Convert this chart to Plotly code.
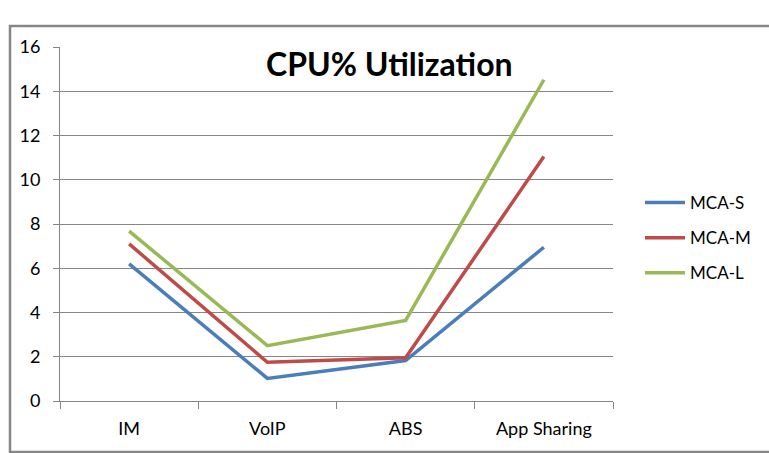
import plotly.graph_objects as go

categories = ["IM", "VoIP", "ABS", "App Sharing"]
mca_s = [6.2, 1.02, 1.83, 6.95]
mca_m = [7.1, 1.75, 1.95, 11.05]
mca_l = [7.68, 2.5, 3.64, 14.52]
series_names = ["MCA-S", "MCA-M", "MCA-L"]
colors = ["#4A7EBB", "#BE4B48", "#98B954"]
y_ticks = [0, 2, 4, 6, 8, 10, 12, 14, 16]

FONT = "Lato, Carlito, Calibri, sans-serif"

fig = go.Figure()
for name, vals, col in zip(series_names, [mca_s, mca_m, mca_l], colors):
    fig.add_trace(go.Scatter(x=categories, y=vals, mode="lines", name=name,
                             legendgroup=name,
                             line=dict(color=col, width=3.5)))

W, H = 769, 453
L, R, T, B = 60, 156, 47, 52
pw = W - L - R
ph = H - T - B

def px_x(px):
    return (px - L) / pw

def px_y(py):
    return (H - B - py) / ph

fig.update_layout(
    width=W, height=H,
    margin=dict(l=L, r=R, t=T, b=B),
    paper_bgcolor="white", plot_bgcolor="white",
    font=dict(family=FONT, size=17, color="#000000"),
    showlegend=True,
    legend=dict(x=px_x(640), y=px_y(185), xanchor="left", yanchor="top",
                font=dict(size=17), tracegroupgap=10,
                bgcolor="rgba(0,0,0,0)", itemwidth=40),
    xaxis=dict(type="category", range=[-0.5, 3.5], showline=True,
               linecolor="#868686", linewidth=1, showgrid=False,
               ticks="outside", tickson="boundaries", ticklen=7,
               tickcolor="#868686", ticklabelstandoff=11,
               tickfont=dict(size=18)),
    yaxis=dict(range=[0, 16], tickvals=y_ticks, showline=True,
               linecolor="#868686", linewidth=1, showgrid=True,
               gridcolor="#868686", gridwidth=1, zeroline=False,
               ticks="outside", ticklen=6, tickcolor="#868686",
               ticklabelstandoff=9, tickfont=dict(size=18)),
    shapes=[dict(type="rect", xref="paper", yref="paper",
                 x0=px_x(10), x1=px_x(790), y0=px_y(452), y1=px_y(26),
                 line=dict(color="#868686", width=2.5), layer="below")],
    annotations=[dict(text="<b>CPU% Utilization</b>", xref="paper", yref="paper",
                      x=px_x(389), y=px_y(63), xanchor="center", yanchor="middle",
                      showarrow=False, font=dict(family=FONT, size=32, color="#000000"))],
)

fig.write_html("out.html")
